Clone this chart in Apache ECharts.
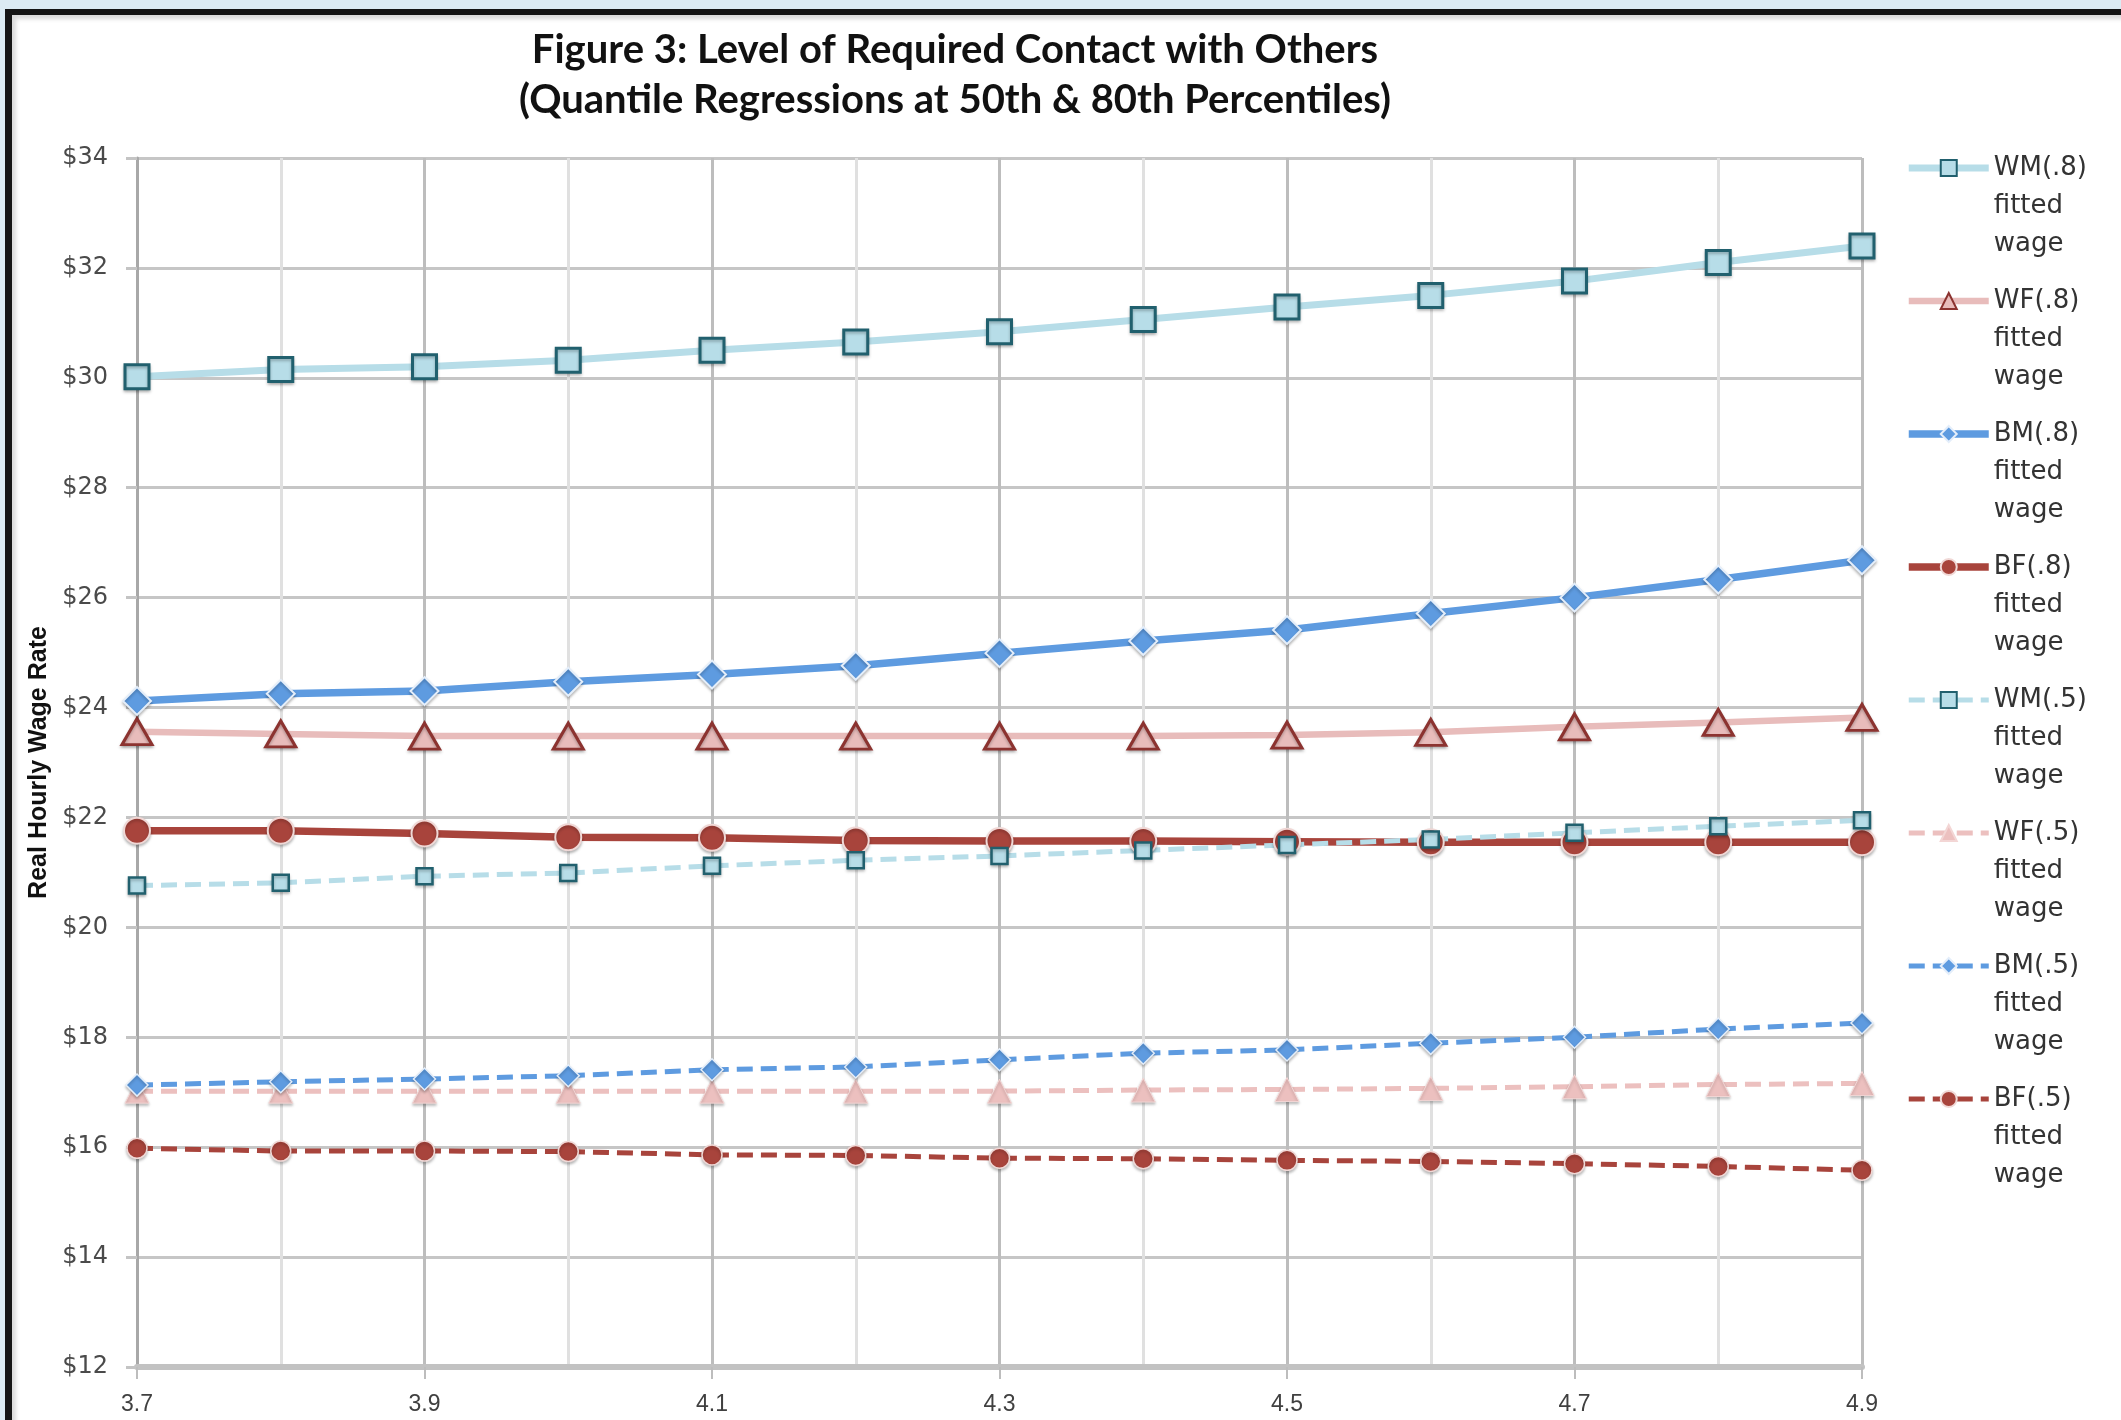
<!DOCTYPE html>
<html>
<head>
<meta charset="utf-8">
<title>Figure 3</title>
<script src="https://cdn.jsdelivr.net/npm/echarts@6.0.0/dist/echarts.min.js"></script>
<style>
  html, body { margin: 0; padding: 0; width: 2121px; height: 1420px; overflow: hidden; background: #dcebf3; }
  #frame {
    position: absolute; left: 5px; top: 9px; width: 2300px; height: 1600px;
    background: #fff; border-top: 6px solid #151515; border-left: 7px solid #151515;
    box-shadow: inset 4px 4px 4px rgba(0, 0, 0, 0.15);
  }
  #chart { position: absolute; left: 0; top: 0; width: 2121px; height: 1420px; }
</style>
</head>
<body>
<div id="frame"></div>
<div id="chart"></div>
<script>
// level of required contact (x axis)
var xLabels = ['3.7', '3.8', '3.9', '4.0', '4.1', '4.2', '4.3', '4.4', '4.5', '4.6', '4.7', '4.8', '4.9'];

// fitted wages, 80th percentile
var wm8 = [30.02, 30.15, 30.2, 30.32, 30.5, 30.65, 30.84, 31.06, 31.29, 31.5, 31.76, 32.1, 32.4];
var wf8 = [23.56, 23.52, 23.48, 23.48, 23.48, 23.48, 23.48, 23.48, 23.5, 23.55, 23.65, 23.73, 23.82];
var bm8 = [24.12, 24.25, 24.3, 24.47, 24.6, 24.76, 24.99, 25.21, 25.41, 25.71, 26.0, 26.33, 26.68];
var bf8 = [21.76, 21.76, 21.71, 21.64, 21.63, 21.58, 21.57, 21.57, 21.56, 21.55, 21.55, 21.55, 21.55];

// fitted wages, 50th percentile
var wm5 = [20.76, 20.81, 20.93, 20.99, 21.12, 21.22, 21.3, 21.4, 21.5, 21.6, 21.72, 21.84, 21.95];
var wf5 = [17.02, 17.02, 17.02, 17.02, 17.02, 17.02, 17.02, 17.04, 17.05, 17.07, 17.1, 17.14, 17.16];
var bm5 = [17.13, 17.19, 17.24, 17.3, 17.41, 17.46, 17.59, 17.71, 17.77, 17.89, 18.0, 18.15, 18.26];
var bf5 = [15.98, 15.93, 15.93, 15.92, 15.86, 15.85, 15.8, 15.79, 15.76, 15.74, 15.7, 15.65, 15.58];

var names = ['WM(.8)', 'WF(.8)', 'BM(.8)', 'BF(.8)', 'WM(.5)', 'WF(.5)', 'BM(.5)', 'BF(.5)'];

var yTicks = { min: 12, max: 34, step: 2 };

function line(name, data, color, width, dashed, symbol, size, fill, border, borderWidth) {
  return {
    name: name,
    type: 'line',
    data: data,
    symbol: symbol,
    symbolSize: size,
    showAllSymbol: true,
    lineStyle: { color: color, width: width, type: dashed ? [16, 8] : 'solid' },
    itemStyle: {
      color: fill,
      borderColor: border,
      borderWidth: borderWidth,
      shadowColor: 'rgba(0,0,0,0.25)',
      shadowBlur: 3,
      shadowOffsetY: 2
    },
    emphasis: { disabled: true }
  };
}

function draw() {
  var myChart = echarts.init(document.getElementById('chart'));
  var option = {
    animation: false,
    title: {
      text: 'Figure 3: Level of Required Contact with Others\n(Quantile Regressions at 50th & 80th Percentiles)',
      left: 950,
      top: 20,
      textAlign: 'center',
      textStyle: { fontFamily: 'Lato', fontWeight: 'bold', fontSize: 40, lineHeight: 50, color: '#111' }
    },
    grid: { left: 137, right: 259, top: 158, bottom: 53, containLabel: false, outerBoundsMode: 'none' },
    legend: {
      orient: 'vertical',
      left: 1900,
      top: 68,
      itemWidth: 80,
      itemHeight: 20,
      itemGap: -57,
      data: names,
      lineStyle: { width: 'inherit' },
      // two empty lines first, so the name (not "fitted") sits on the icon
      formatter: function (n) { return '\n\n' + n + '\nfitted\nwage'; },
      textStyle: { fontFamily: 'DejaVu Sans', fontSize: 26, color: '#333', lineHeight: 38 }
    },
    xAxis: {
      type: 'category',
      data: xLabels,
      boundaryGap: false,
      axisLine: { lineStyle: { color: '#c2c2c2', width: 6 } },
      axisTick: { show: true, interval: 1, length: 12, lineStyle: { color: '#bdbdbd', width: 2 } },
      axisLabel: { interval: 1, margin: 26, fontFamily: 'Liberation Sans', fontSize: 23, color: '#404040' },
      splitLine: { show: true, interval: 0, lineStyle: { color: ['#bdbdbd', '#e0e0e0'], width: 3 } }
    },
    yAxis: {
      type: 'value',
      min: yTicks.min,
      max: yTicks.max,
      interval: yTicks.step,
      name: 'Real Hourly Wage Rate',
      nameLocation: 'middle',
      nameGap: 85,
      nameTextStyle: { fontFamily: 'Liberation Sans', fontWeight: 'bold', fontSize: 25, color: '#111' },
      axisLine: { show: true, lineStyle: { color: '#a8a8a8', width: 3 } },
      axisTick: { show: true, length: 11, lineStyle: { color: '#c4c4c4', width: 3 } },
      axisLabel: {
        margin: 29,
        fontFamily: 'DejaVu Sans',
        fontSize: 24,
        color: '#4a4a4a',
        formatter: function (v) { return '$' + v; }
      },
      splitLine: { lineStyle: { color: '#c6c6c6', width: 3 } }
    },
    series: [
      line('WM(.8)', wm8, '#b7dde8', 7, false, 'rect', 24, '#b7dde8', '#21606e', 3),
      line('WF(.8)', wf8, '#e8bcbb', 6.5, false, 'triangle', [30, 26], '#e8bcbb', '#8c3330', 3),
      line('BM(.8)', bm8, '#5e9be0', 7.5, false, 'diamond', 28, '#5e9be0', '#e4eefa', 2),
      line('BF(.8)', bf8, '#a8443c', 7.5, false, 'circle', 26, '#a8443c', '#f0d8d6', 2),
      line('WM(.5)', wm5, '#b7dde8', 5, true, 'rect', 16, '#b7dde8', '#21606e', 2.5),
      line('WF(.5)', wf5, '#ecc0bf', 5, true, 'triangle', [24, 24], '#ecc0bf', '#f3d6d5', 1),
      line('BM(.5)', bm5, '#5e9be0', 5, true, 'diamond', 22, '#5e9be0', '#e4eefa', 1.5),
      line('BF(.5)', bf5, '#a8443c', 5, true, 'circle', 20, '#a8443c', '#f0d8d6', 1.5)
    ]
  };

  myChart.setOption(option);
}

draw();
</script>
</body>
</html>
